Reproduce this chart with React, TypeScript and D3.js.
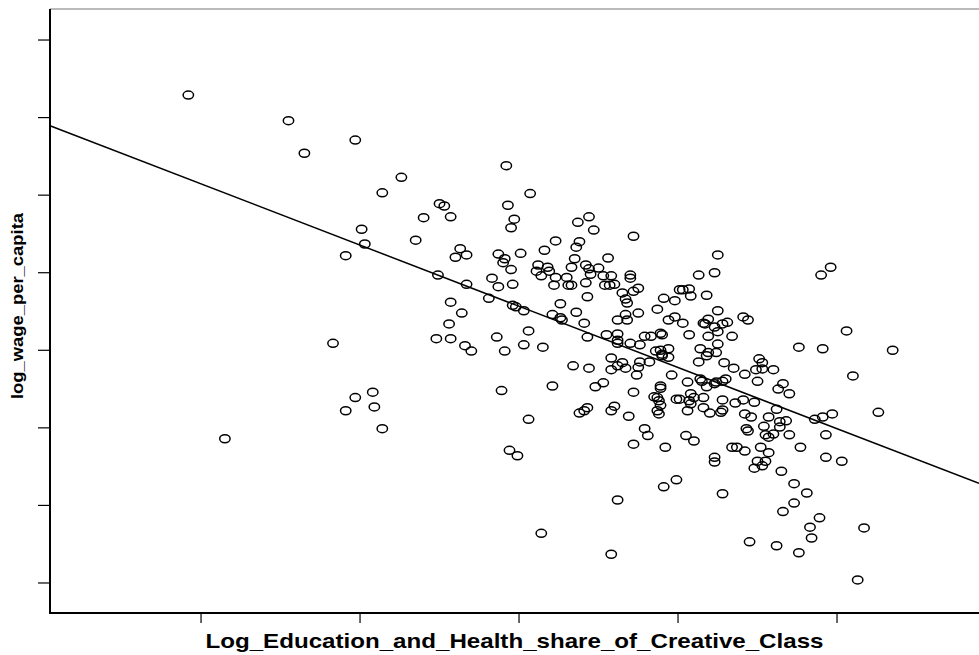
import React from 'react';
import * as d3 from 'd3';

// scatter of counties: [log share, log wage]
const points: [number, number][] = [
  [-5.08, 10.229], [-4.45, 10.196], [-4.35, 10.154], [-4.03, 10.171], [-3.99, 10.056], [-3.97, 10.037],
  [-4.09, 10.022], [-4.17, 9.909], [-4.03, 9.839], [-4.09, 9.822], [-4.85, 9.786], [-3.92, 9.846],
  [-3.91, 9.827], [-3.86, 9.799],
  [-3.08, 10.138], [-3.74, 10.123], [-3.86, 10.103], [-2.93, 10.102], [-3.50, 10.089], [-3.47, 10.086],
  [-3.07, 10.087], [-3.60, 10.071], [-3.43, 10.072], [-3.03, 10.069], [-3.05, 10.058], [-3.65, 10.042],
  [-2.63, 10.065], [-2.56, 10.072], [-2.53, 10.055], [-2.28, 10.047], [-2.77, 10.041], [-2.84, 10.029],
  [-2.62, 10.040], [-2.64, 10.033], [-3.37, 10.031], [-3.40, 10.020], [-3.33, 10.023], [-3.13, 10.024],
  [-2.99, 10.025], [-3.09, 10.018], [-3.10, 10.013], [-3.05, 10.004], [-2.65, 10.018], [-2.44, 10.019],
  [-2.88, 10.010], [-2.82, 10.007], [-2.89, 10.002], [-2.81, 10.002], [-2.86, 9.996], [-2.67, 10.007],
  [-2.58, 10.010], [-2.56, 10.005], [-2.50, 10.006], [-2.77, 9.994], [-2.70, 9.994], [-2.55, 9.998],
  [-2.47, 9.996], [-2.42, 9.996], [-2.30, 9.997], [-2.30, 9.993], [-3.51, 9.997], [-3.33, 9.985],
  [-3.17, 9.993], [-3.13, 9.982], [-3.04, 9.985], [-2.78, 9.984], [-2.69, 9.984], [-2.67, 9.984],
  [-2.58, 9.987], [-2.46, 9.984], [-2.43, 9.984], [-2.40, 9.985], [-2.25, 9.980], [-2.28, 9.976],
  [-2.35, 9.974], [-2.33, 9.966], [-2.32, 9.961], [-1.99, 9.978], [-3.19, 9.967], [-3.43, 9.962],
  [-3.36, 9.948], [-3.44, 9.934], [-3.04, 9.958], [-3.02, 9.956], [-2.97, 9.951], [-2.74, 9.960],
  [-2.57, 9.969], [-2.64, 9.949], [-2.79, 9.946], [-2.74, 9.942], [-2.73, 9.939], [-2.59, 9.935],
  [-2.38, 9.939], [-2.33, 9.946], [-2.32, 9.939], [-2.25, 9.948], [-2.09, 9.967], [-2.02, 9.964],
  [-2.13, 9.953], [-2.06, 9.939], [-2.02, 9.943], [-2.94, 9.925], [-3.52, 9.915], [-3.43, 9.915],
  [-3.14, 9.917], [-2.57, 9.917], [-2.45, 9.920], [-2.38, 9.921], [-2.38, 9.913], [-2.38, 9.909],
  [-2.21, 9.918], [-2.17, 9.918], [-2.11, 9.922], [-2.10, 9.920],
  [-3.34, 9.906], [-3.30, 9.899], [-3.09, 9.899], [-2.97, 9.907], [-2.85, 9.904], [-2.30, 9.909],
  [-2.24, 9.907], [-2.14, 9.899], [-2.11, 9.900], [-2.06, 9.902], [-2.06, 9.891], [-2.10, 9.893],
  [-2.18, 9.885], [-2.24, 9.885], [-2.25, 9.878], [-2.42, 9.890], [-2.35, 9.884], [-2.33, 9.877],
  [-2.38, 9.880], [-2.42, 9.875], [-2.66, 9.880], [-2.56, 9.877], [-2.26, 9.868], [-2.04, 9.868],
  [-2.47, 9.858], [-2.52, 9.853], [-2.28, 9.846], [-2.11, 9.854], [-2.11, 9.851], [-2.15, 9.840],
  [-2.13, 9.839], [-2.12, 9.835], [-2.11, 9.829], [-2.13, 9.822], [-2.12, 9.818], [-2.01, 9.837],
  [-2.79, 9.854], [-3.11, 9.848], [-2.94, 9.811], [-2.57, 9.826], [-2.59, 9.822], [-2.62, 9.819],
  [-2.40, 9.828], [-2.42, 9.822], [-2.31, 9.815], [-2.21, 9.799], [-2.19, 9.790], [-2.28, 9.779],
  [-2.08, 9.775], [-3.06, 9.771], [-3.01, 9.764], [-2.01, 9.733], [-2.09, 9.724], [-2.38, 9.707],
  [-2.86, 9.664], [-2.42, 9.637],
  [-1.75, 10.023], [-1.87, 9.997], [-1.77, 10.000], [-1.10, 9.997], [-1.04, 10.007], [-1.97, 9.978],
  [-1.93, 9.979], [-1.92, 9.970], [-1.82, 9.971], [-1.75, 9.951], [-1.97, 9.935], [-1.84, 9.935],
  [-1.81, 9.940], [-1.83, 9.934], [-1.77, 9.930], [-1.75, 9.924], [-1.72, 9.934], [-1.69, 9.936],
  [-1.59, 9.943], [-1.56, 9.939], [-1.66, 9.918], [-1.81, 9.918], [-1.93, 9.920], [-0.94, 9.925],
  [-1.24, 9.904], [-1.09, 9.902], [-0.65, 9.900], [-1.75, 9.908], [-1.76, 9.897], [-1.81, 9.897],
  [-1.82, 9.893], [-1.86, 9.902], [-1.87, 9.885], [-2.10, 9.895], [-1.71, 9.884], [-1.65, 9.877],
  [-1.49, 9.889], [-1.47, 9.884], [-1.51, 9.875], [-1.47, 9.876], [-1.40, 9.875], [-1.58, 9.869],
  [-1.70, 9.863], [-1.72, 9.860], [-1.76, 9.859], [-1.77, 9.857], [-1.86, 9.863], [-1.85, 9.860],
  [-1.94, 9.859], [-1.82, 9.853], [-1.50, 9.860], [-1.34, 9.857], [-1.37, 9.850], [-1.30, 9.844],
  [-0.90, 9.867], [-1.92, 9.844], [-1.90, 9.839], [-1.99, 9.837], [-1.93, 9.835], [-1.84, 9.839],
  [-1.92, 9.831], [-1.94, 9.822], [-1.72, 9.836], [-1.72, 9.823], [-1.73, 9.820], [-1.64, 9.832],
  [-1.59, 9.836], [-1.52, 9.833], [-1.84, 9.826], [-1.80, 9.819], [-1.38, 9.824], [-1.43, 9.814],
  [-1.36, 9.808], [-1.32, 9.809], [-1.58, 9.818], [-1.54, 9.814], [-1.46, 9.802], [-1.14, 9.811],
  [-1.09, 9.814], [-1.03, 9.818], [-0.74, 9.820], [-1.57, 9.799], [-1.56, 9.796], [-1.36, 9.801],
  [-1.95, 9.790], [-1.90, 9.783], [-1.40, 9.792], [-1.43, 9.788], [-1.45, 9.791], [-1.30, 9.791],
  [-1.07, 9.791], [-1.23, 9.775], [-1.66, 9.775], [-1.63, 9.775], [-1.58, 9.770], [-1.48, 9.775],
  [-1.43, 9.768], [-1.77, 9.762], [-1.77, 9.756], [-1.50, 9.757], [-1.52, 9.748], [-1.47, 9.751],
  [-1.45, 9.757], [-1.07, 9.762], [-0.97, 9.757], [-1.35, 9.744], [-1.72, 9.715], [-1.27, 9.728],
  [-1.19, 9.716], [-1.27, 9.703], [-1.34, 9.692], [-1.11, 9.684], [-1.17, 9.672], [-1.16, 9.658],
  [-0.83, 9.671], [-1.55, 9.653], [-1.38, 9.648], [-1.24, 9.639], [-0.87, 9.604],
];

const xTicks = [-5, -4, -3, -2, -1];
const yTicks = [9.6, 9.7, 9.8, 9.9, 10.0, 10.1, 10.2, 10.3];

// fitted line: wage = intercept + slope * share
const fitIntercept = 9.72;
const fitSlope = -0.0789;

const xLabel = 'Log_Education_and_Health_share_of_Creative_Class';
const yLabel = 'log_wage_per_capita';

const width = 979;
const height = 655;
const margin = { top: 9, right: 0, bottom: 42, left: 50 };

export default function App() {
  const x = d3.scaleLinear().domain([-5.95, -0.107]).range([margin.left, width - margin.right]);
  const y = d3.scaleLinear().domain([9.5613, 10.34]).range([height - margin.bottom, margin.top]);

  const [x0, x1] = x.domain();
  const fitLine = d3.line<number>()
    .x(d => x(d))
    .y(d => y(fitIntercept + fitSlope * d));

  const bottom = height - margin.bottom;
  const font = '"Liberation Sans", Arial, Helvetica, sans-serif';

  return (
    <svg width={width} height={height} style={{ position: 'absolute', left: 0, top: 0, background: '#fff' }}>
      {/* frame */}
      <line x1={margin.left} x2={width} y1={margin.top} y2={margin.top} stroke="#777" strokeWidth={1} />
      <line x1={margin.left} x2={margin.left} y1={margin.top} y2={bottom + 1} stroke="#000" strokeWidth={2} />
      <line x1={margin.left - 1} x2={width} y1={bottom} y2={bottom} stroke="#000" strokeWidth={2} />

      {yTicks.map(t => (
        <line key={t} x1={margin.left - 12} x2={margin.left} y1={y(t)} y2={y(t)} stroke="#000" strokeWidth={1.2} />
      ))}
      {xTicks.map(t => (
        <line key={t} x1={x(t)} x2={x(t)} y1={bottom} y2={bottom + 10} stroke="#000" strokeWidth={1.2} />
      ))}

      <path d={fitLine([x0, x1]) ?? ''} fill="none" stroke="#000" strokeWidth={1.5} />

      {points.map((p, i) => (
        <ellipse key={i} cx={x(p[0])} cy={y(p[1])} rx={5.2} ry={4} fill="none" stroke="#000" strokeWidth={1.5} />
      ))}

      <text x={(margin.left + width) / 2} y={648} textAnchor="middle" fontFamily={font}
        fontWeight="bold" fontSize={20.5} textLength={618} lengthAdjust="spacingAndGlyphs">
        {xLabel}
      </text>
      <text transform="translate(23,306) rotate(-90)" textAnchor="middle" fontFamily={font}
        fontWeight="bold" fontSize={17} textLength={186} lengthAdjust="spacingAndGlyphs">
        {yLabel}
      </text>
    </svg>
  );
}
